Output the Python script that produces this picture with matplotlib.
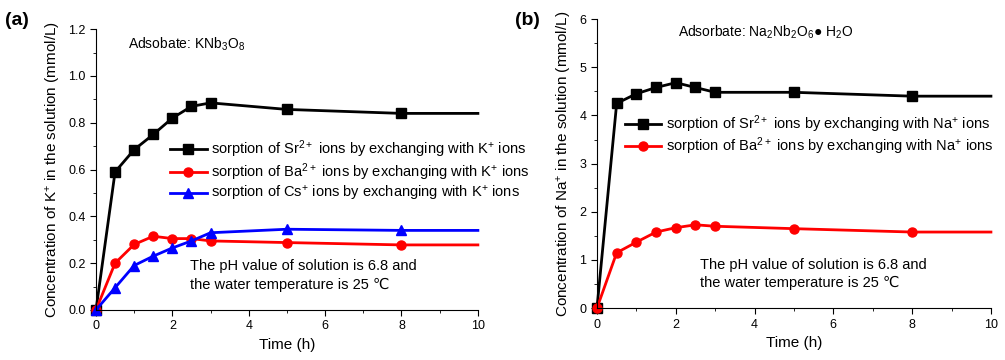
import matplotlib
matplotlib.use('Agg')
import matplotlib.pyplot as plt
from matplotlib.ticker import MultipleLocator

plt.rcParams['font.family'] = ['Liberation Sans', 'DejaVu Sans']
plt.rcParams['mathtext.fontset'] = 'custom'
plt.rcParams['mathtext.rm'] = 'Liberation Sans'
plt.rcParams['mathtext.default'] = 'regular'

# time points (h)
time_h = [0, 0.5, 1, 1.5, 2, 2.5, 3, 5, 8, 10]

# (a) KNb3O8, K+ released (mmol/L)
k_sr = [0, 0.59, 0.685, 0.75, 0.82, 0.87, 0.885, 0.857, 0.84, 0.84]
k_ba = [0, 0.20, 0.28, 0.315, 0.305, 0.305, 0.295, 0.288, 0.278, 0.278]
k_cs = [0, 0.095, 0.19, 0.23, 0.265, 0.295, 0.33, 0.345, 0.34, 0.34]

# (b) Na2Nb2O6.H2O, Na+ released (mmol/L)
na_sr = [0, 4.25, 4.45, 4.58, 4.68, 4.58, 4.48, 4.48, 4.40, 4.40]
na_ba = [0, 1.15, 1.37, 1.58, 1.67, 1.73, 1.70, 1.65, 1.58, 1.58]

lab_a = ['sorption of Sr$^{2+}$ ions by exchanging with K$^{+}$ ions',
         'sorption of Ba$^{2+}$ ions by exchanging with K$^{+}$ ions',
         'sorption of Cs$^{+}$ ions by exchanging with K$^{+}$ ions']
lab_b = ['sorption of Sr$^{2+}$ ions by exchanging with Na$^{+}$ ions',
         'sorption of Ba$^{2+}$ ions by exchanging with Na$^{+}$ ions']

fig = plt.figure(figsize=(10.05, 3.6), dpi=100)
ax1 = fig.add_axes([0.0955, 0.139, 0.380, 0.780])
ax2 = fig.add_axes([0.594, 0.144, 0.392, 0.803])

mev = list(range(len(time_h) - 1))
kw = dict(lw=2, ms=6.5, markevery=mev, clip_on=False)
ax1.plot(time_h, k_sr, color='black', marker='s', label=lab_a[0], **kw)
ax1.plot(time_h, k_ba, color='red', marker='o', label=lab_a[1], **kw)
ax1.plot(time_h, k_cs, color='blue', marker='^', label=lab_a[2], **kw)

ax2.plot(time_h, na_sr, color='black', marker='s', label=lab_b[0], **kw)
ax2.plot(time_h, na_ba, color='red', marker='o', label=lab_b[1], **kw)

for ax in (ax1, ax2):
    ax.spines['top'].set_visible(False)
    ax.spines['right'].set_visible(False)
    ax.set_xlim(0, 10)
    ax.xaxis.set_major_locator(MultipleLocator(2))
    ax.xaxis.set_minor_locator(MultipleLocator(1))
    ax.tick_params(which='both', direction='out', labelsize=9)
    ax.tick_params(which='major', length=4)
    ax.tick_params(which='minor', length=2.5)
    ax.set_xlabel('Time (h)', fontsize=11)

ax1.set_ylim(0, 1.2)
ax1.yaxis.set_major_locator(MultipleLocator(0.2))
ax1.yaxis.set_minor_locator(MultipleLocator(0.1))
ax1.yaxis.set_major_formatter(matplotlib.ticker.FormatStrFormatter('%.1f'))
ax1.set_ylabel('Concentration of K$^{+}$ in the solution (mmol/L)', fontsize=11)

ax2.set_ylim(0, 6)
ax2.yaxis.set_major_locator(MultipleLocator(1))
ax2.yaxis.set_minor_locator(MultipleLocator(0.5))
ax2.set_ylabel('Concentration of Na$^{+}$ in the solution (mmol/L)', fontsize=11)

leg_kw = dict(loc='upper left', frameon=False, fontsize=10.5, handlelength=2.5,
              handletextpad=0.3, labelspacing=0.08, borderaxespad=0, borderpad=0)
ax1.legend(bbox_to_anchor=(0.194, 0.61), **leg_kw)
ax2.legend(bbox_to_anchor=(0.071, 0.675), **leg_kw)

ax1.text(0.085, 0.93, 'Adsobate: KNb$_{3}$O$_{8}$', transform=ax1.transAxes, fontsize=10)
ax2.text(0.205, 0.94, 'Adsorbate: Na$_{2}$Nb$_{2}$O$_{6}$\u25cf H$_{2}$O',
         transform=ax2.transAxes, fontsize=10)

note = 'The pH value of solution is 6.8 and\nthe water temperature is 25 \u2103'
ax1.text(0.246, 0.18, note, transform=ax1.transAxes, fontsize=10.5,
         linespacing=1.4, va='top')
ax2.text(0.261, 0.175, note, transform=ax2.transAxes, fontsize=10.5,
         linespacing=1.4, va='top')

fig.text(0.005, 0.93, '(a)', fontsize=14, fontweight='bold')
fig.text(0.512, 0.93, '(b)', fontsize=14, fontweight='bold')

fig.savefig('out.png', dpi=100)
